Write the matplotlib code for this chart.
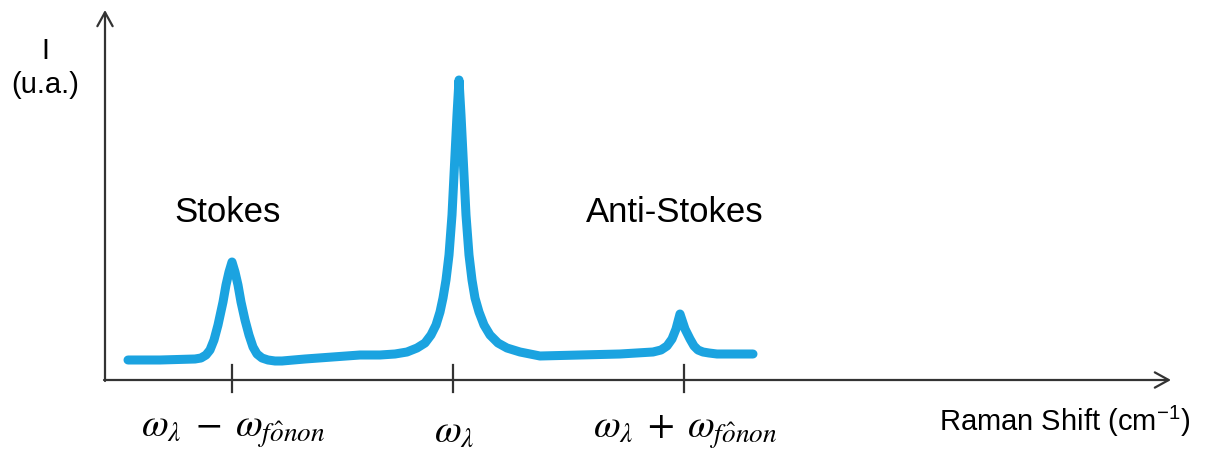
import matplotlib.pyplot as plt

# schematic Raman spectrum, arbitrary units (shift, intensity)
shift = [23, 55, 90, 96, 101, 105, 109, 113, 118, 121, 124, 127,
         130, 133, 136, 140, 144, 148, 152, 157, 163, 170, 177,
         200, 255, 275, 290, 302, 312, 320, 326, 331, 335, 338, 341,
         344, 347, 350, 352, 354, 356, 358, 361, 364, 367, 370, 374,
         379, 385, 393, 402, 415, 435, 515, 548, 556, 562, 567, 571,
         575, 580, 585, 589, 593, 598, 604, 612, 625, 648]
intensity = [20, 20, 21, 22, 25, 30, 40, 55, 78, 95, 108, 118,
             108, 95, 78, 60, 45, 33, 26, 22, 20, 19, 19,
             21, 25, 25, 26, 28, 32, 37, 45, 55, 68, 82, 100,
             125, 165, 225, 265, 300, 265, 225, 165, 125, 100, 82, 68,
             55, 45, 37, 32, 28, 24, 26, 28, 30, 34, 41, 51,
             66, 51, 41, 34, 30, 28, 27, 26, 26, 26]

tick_pos = [127, 348, 579]
tick_labels = [r'$\omega_\lambda\;-\;\omega_{f\hat{o}non}$',
               r'$\omega_\lambda$',
               r'$\omega_\lambda\;+\;\omega_{f\hat{o}non}$']

plt.rcParams['mathtext.fontset'] = 'stix'
plt.rcParams['font.family'] = ['Liberation Sans', 'DejaVu Sans']

fig = plt.figure(figsize=(12.11, 4.49), dpi=100)
ax = fig.add_axes([0, 0, 1, 1])
ax.set_xlim(-105, 1106)
ax.set_ylim(-69, 380)
ax.axis('off')

axis_color = '#333333'
# axes with open arrow heads
ax.annotate('', xy=(1066, 0), xytext=(-1, 0),
            arrowprops=dict(arrowstyle='->,head_length=1.0,head_width=0.55',
                            color=axis_color, lw=1.6, shrinkA=0, shrinkB=0))
ax.annotate('', xy=(0, 370), xytext=(0, -1),
            arrowprops=dict(arrowstyle='->,head_length=1.0,head_width=0.55',
                            color=axis_color, lw=1.6, shrinkA=0, shrinkB=0))

# spectrum
ax.plot(shift, intensity, color='#1BA3E0', lw=6.5,
        solid_joinstyle='round', solid_capstyle='round')

# tick marks and labels
for pos, lab in zip(tick_pos, tick_labels):
    ax.plot([pos, pos], [15, -12], color=axis_color, lw=1.6)
    ax.text(pos + 1, -52, lab, fontsize=28, ha='center', va='center')

ax.text(123, 168, 'Stokes', fontsize=25, ha='center', va='center')
ax.text(570, 168, 'Anti-Stokes', fontsize=25, ha='center', va='center')
ax.text(-60, 329, 'I', fontsize=21, ha='center', va='center')
ax.text(-60, 295, '(u.a.)', fontsize=21, ha='center', va='center')
ax.text(960, -42, 'Raman Shift (cm$^{\\mathregular{-1}}$)', fontsize=21,
        ha='center', va='center')

fig.savefig('out.png', dpi=100)
